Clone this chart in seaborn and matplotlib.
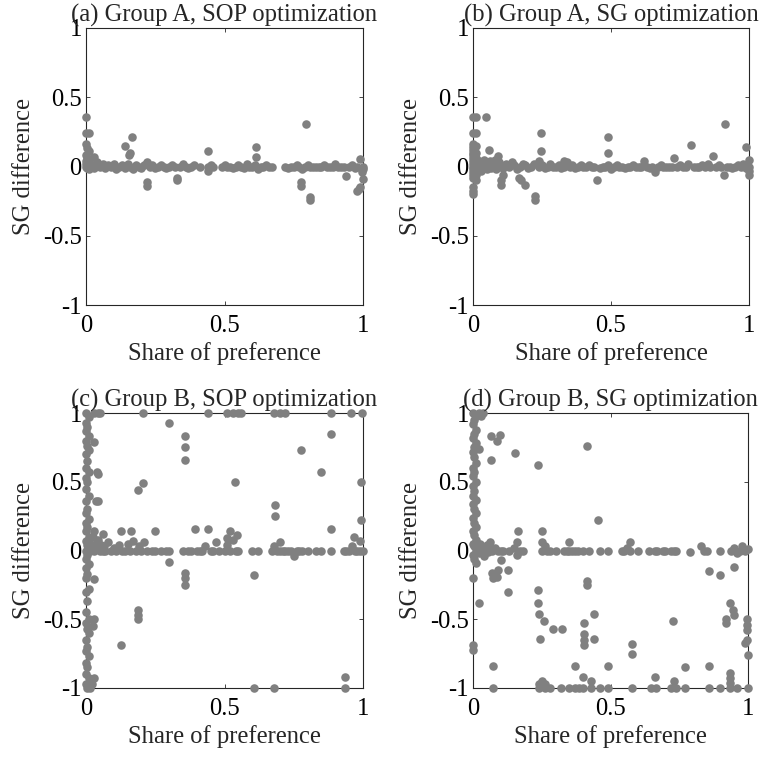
import matplotlib
matplotlib.use("Agg")
import matplotlib.pyplot as plt
import seaborn as sns
import pandas as pd

# ---------------- data ----------------
titles = ["(a) Group A, SOP optimization", "(b) Group A, SG optimization",
          "(c) Group B, SOP optimization", "(d) Group B, SG optimization"]
x_label = "Share of preference"
y_label = "SG difference"
x_ticks = [0, 0.5, 1]
x_tick_labels = ["0", "0.5", "1"]
y_ticks = [-1, -0.5, 0, 0.5, 1]
y_tick_labels = ["-1", "-0.5", "0", "0.5", "1"]

# panel (a)
a_col_x = [0, 0, 0.01, 0, 0.005, 0.01, 0, 0.005, 0, 0.01, 0, 0.005, 0, 0.01, 0.005]
a_col_y = [0.36, 0.24, 0.24, 0.16, 0.13, 0.11, 0.08, 0.06, 0.04, 0.03, 0.0, -0.01, 0.02, -0.02, 0.01]
a_band_x = [0.02, 0.03, 0.04, 0.05, 0.06, 0.07, 0.08, 0.09, 0.10, 0.11,
            0.12, 0.13, 0.14, 0.15, 0.16, 0.17, 0.18, 0.19, 0.20, 0.21,
            0.22, 0.23, 0.24, 0.25, 0.26, 0.27, 0.28, 0.29, 0.30, 0.31,
            0.32, 0.34, 0.35, 0.36, 0.37, 0.38, 0.39, 0.41, 0.44, 0.45,
            0.46, 0.49, 0.50, 0.51, 0.52, 0.53, 0.54, 0.55, 0.56, 0.57,
            0.58, 0.59, 0.60, 0.61, 0.62, 0.63, 0.64, 0.65, 0.66, 0.67,
            0.72, 0.73, 0.74, 0.75, 0.76, 0.77, 0.78, 0.79, 0.80, 0.81,
            0.82, 0.83, 0.84, 0.85, 0.86, 0.87, 0.88, 0.89, 0.90, 0.91,
            0.92, 0.93, 0.95, 0.96, 0.97, 0.98]
a_band_y = [0.01, -0.01, 0.03, 0.0, 0.02, -0.01, 0.01, 0.0, 0.02, -0.02,
            0.0, 0.01, -0.01, 0.02, 0.0, -0.02, 0.01, 0.0, -0.01, 0.01,
            0.03, 0.0, 0.01, -0.01, 0.0, 0.01, 0.0, -0.01, 0.0, 0.01,
            0.0, 0.0, 0.02, 0.0, -0.01, 0.0, 0.01, 0.0, 0.0, 0.01,
            0.0, 0.0, 0.01, 0.0, 0.0, -0.01, 0.0, 0.01, 0.0, -0.01,
            0.02, 0.0, 0.0, 0.01, -0.02, 0.0, 0.0, 0.01, 0.0, 0.0,
            0.0, -0.01, 0.0, 0.0, 0.01, 0.0, -0.02, 0.0, 0.01, 0.0,
            0.0, 0.0, 0.0, 0.0, 0.01, 0.0, 0.0, 0.0, 0.02, 0.0,
            0.0, 0.0, 0.0, 0.01, -0.01, 0.0]
a_out_x = [0.03, 0.14, 0.165, 0.16, 0.155, 0.22, 0.22, 0.33, 0.33, 0.44,
           0.44, 0.614, 0.614, 0.794, 0.775, 0.775, 0.81, 0.81, 0.94, 0.977,
           0.985, 0.99, 1.0, 0.99, 1.0, 1.0, 0.995]
a_out_y = [0.07, 0.15, 0.215, 0.1, 0.08, -0.11, -0.14, -0.08, -0.1, 0.11,
           -0.03, 0.14, 0.07, 0.31, -0.11, -0.14, -0.22, -0.24, -0.07, -0.18,
           -0.16, -0.15, -0.09, 0.055, -0.02, 0.0, -0.04]

# panel (b)
b_col_x = [0, 0, 0, 0, 0, 0, 0, 0, 0, 0, 0, 0, 0, 0, 0, 0, 0, 0,
           0.01, 0.01, 0.01, 0.01, 0.01, 0.01, 0.01, 0.01, 0.01, 0.01]
b_col_y = [0.36, 0.24, 0.16, 0.14, 0.12, 0.1, 0.08, 0.06, 0.04, 0.02, 0, -0.02, -0.04, -0.06, -0.08, -0.15, -0.18, -0.2,
           0.36, 0.24, 0.15, 0.1, 0.06, 0.03, 0, -0.03, -0.06, -0.1]
b_band_x = [0.015, 0.02, 0.02, 0.025, 0.03, 0.03, 0.035, 0.04, 0.04, 0.045,
            0.05, 0.05, 0.055, 0.06, 0.065, 0.07, 0.075, 0.08, 0.085, 0.09,
            0.095, 0.10, 0.11, 0.12, 0.13, 0.14, 0.15, 0.16, 0.17, 0.18,
            0.19, 0.20, 0.21, 0.22, 0.24, 0.25, 0.26, 0.27, 0.28, 0.29,
            0.30, 0.31, 0.32, 0.33, 0.34, 0.35, 0.36, 0.37, 0.38, 0.39,
            0.40, 0.41, 0.42, 0.43, 0.44, 0.46, 0.47, 0.48, 0.49, 0.50,
            0.51, 0.52, 0.53, 0.54, 0.55, 0.56, 0.57, 0.58, 0.59, 0.60,
            0.61, 0.63, 0.64, 0.65, 0.67, 0.68, 0.69, 0.70, 0.71, 0.72,
            0.74, 0.75, 0.76, 0.77, 0.78, 0.80, 0.81, 0.82, 0.83, 0.84,
            0.85, 0.86, 0.88, 0.89, 0.90, 0.92, 0.93, 0.94, 0.95, 0.96,
            0.97, 0.98, 0.99, 1.0]
b_band_y = [0.02, -0.02, 0.04, 0.0, 0.03, -0.03, 0.01, 0.05, -0.01, 0.02,
            -0.02, 0.03, 0.0, 0.04, -0.01, 0.02, 0.0, 0.05, -0.02, 0.01,
            0.03, 0.0, -0.01, 0.02, 0.0, 0.03, 0.01, -0.02, 0.0, 0.02,
            0.01, -0.01, 0.0, 0.02, 0.0, 0.01, -0.01, 0.0, 0.02, 0.0,
            0.0, 0.01, -0.01, 0.0, 0.03, 0.0, 0.01, -0.01, 0.0, 0.01,
            0.0, 0.0, 0.01, 0.0, 0.0, -0.01, 0.0, 0.0, 0.01, -0.02,
            0.0, 0.01, 0.0, 0.0, -0.01, 0.0, 0.0, 0.01, 0.0, 0.0,
            0.0, 0.0, -0.01, 0.0, 0.0, 0.01, 0.0, 0.0, 0.0, 0.0,
            0.0, 0.01, 0.0, 0.0, 0.02, 0.0, 0.0, 0.0, 0.01, 0.0,
            0.02, 0.0, 0.0, 0.01, 0.0, 0.0, 0.0, -0.01, 0.0, 0.01,
            0.0, 0.02, -0.01, 0.0]
b_out_x = [0.048, 0.058, 0.09, 0.1, 0.1, 0.11, 0.165, 0.174, 0.19, 0.225,
           0.225, 0.246, 0.246, 0.45, 0.49, 0.49, 0.913, 0.79, 0.99, 0.87,
           0.73, 0.62, 0.66, 0.91, 1.0, 1.0, 1.0, 0.33, 0.24]
b_out_y = [0.36, 0.12, 0.076, -0.1, -0.13, -0.06, -0.08, -0.1, -0.13, -0.21,
           -0.24, 0.24, 0.114, -0.1, 0.215, 0.1, 0.31, 0.155, 0.14, 0.075,
           0.06, 0.04, -0.04, -0.06, 0.05, -0.03, -0.06, 0.04, 0.04]

# panel (c)
c_col_x = [0, 0.01, 0, 0.005, 0, 0.01, 0, 0.005, 0.01, 0,
           0.005, 0, 0.01, 0, 0.005, 0, 0.01, 0, 0.005, 0,
           0.01, 0, 0.005, 0, 0.01, 0, 0.005, 0.01, 0, 0.005,
           0, 0.01, 0, 0.005, 0, 0.01, 0, 0.005, 0, 0.01,
           0, 0.005, 0.01, 0, 0.005, 0, 0.01, 0, 0.005, 0,
           0.01, 0, 0.005]
c_col_y = [1.0, 0.97, 0.93, 0.9, 0.87, 0.83, 0.8, 0.76, 0.73, 0.7,
           0.65, 0.6, 0.57, 0.53, 0.5, 0.45, 0.4, 0.36, 0.3, 0.27,
           0.23, 0.2, 0.17, 0.14, 0.1, 0.07, 0.04, 0.02, 0.0, -0.03,
           -0.06, -0.1, -0.13, -0.17, -0.2, -0.28, -0.3, -0.37, -0.45, -0.5,
           -0.53, -0.57, -0.6, -0.65, -0.7, -0.73, -0.77, -0.82, -0.85, -0.9,
           -0.93, -0.97, -1.0]
c_band_x = [0.01, 0.015, 0.02, 0.025, 0.03, 0.035, 0.04, 0.045, 0.05, 0.055,
            0.06, 0.065, 0.07, 0.08, 0.09, 0.1, 0.11, 0.12, 0.13, 0.14,
            0.15, 0.16, 0.17, 0.18, 0.19, 0.2, 0.21, 0.22, 0.24, 0.25,
            0.27, 0.29, 0.3, 0.35, 0.37, 0.38, 0.4, 0.41, 0.42, 0.43,
            0.45, 0.46, 0.47, 0.48, 0.5, 0.51, 0.52, 0.53, 0.54, 0.55,
            0.6, 0.62, 0.67, 0.68, 0.69, 0.7, 0.71, 0.72, 0.73, 0.74,
            0.76, 0.77, 0.78, 0.8, 0.83, 0.85, 0.886, 0.93, 0.94, 0.95,
            0.96, 0.97, 0.98, 0.99, 1.0]
c_band_y = [0.06, 0.0, 0.03, 0.1, 0.0, 0.05, 0.02, 0.08, 0.0, 0.04,
            0.0, 0.03, 0.0, 0.06, 0.0, 0.02, 0.0, 0.04, 0.0, 0.0,
            0.05, 0.0, 0.07, 0.0, 0.03, 0.0, 0.06, 0.0, 0.0, 0.0,
            0.0, 0.0, 0.0, 0.0, 0.0, 0.0, 0.0, 0.0, 0.0, 0.03,
            0.0, 0.0, 0.06, 0.0, 0.0, 0.04, 0.0, 0.08, 0.0, 0.0,
            0.0, 0.0, 0.0, 0.03, 0.0, 0.0, 0.0, 0.0, 0.0, 0.0,
            0.0, 0.0, 0.0, 0.0, 0.0, 0.0, 0.0, 0.0, 0.0, 0.0,
            0.03, 0.0, 0.0, 0.0, 0.0]
c_top_x = [0.03, 0.043, 0.05, 0.206, 0.44, 0.51, 0.53, 0.55, 0.56, 0.68,
           0.70, 0.72, 0.886, 0.957, 0.996]
c_top_y = [1.0, 1.0, 1.0, 1.0, 1.0, 1.0, 1.0, 1.0, 1.0, 1.0,
           1.0, 1.0, 1.0, 1.0, 1.0]
c_out_x = [0.3, 0.356, 0.356, 0.356, 0.029, 0.043, 0.038, 0.206, 0.188, 0.043,
           0.035, 0.127, 0.164, 0.248, 0.392, 0.44, 0.03, 0.06, 0.3, 0.356,
           0.356, 0.356, 0.03, 0.188, 0.188, 0.188, 0.03, 0.025, 0.127, 0.015,
           0.02, 0.03, 0.886, 0.775, 0.85, 0.537, 0.993, 0.682, 0.682, 0.993,
           0.886, 0.52, 0.545, 0.968, 0.99, 0.70, 0.51, 0.607, 0.75, 0.607,
           0.68, 0.936, 0.936]
c_out_y = [0.93, 0.83, 0.755, 0.66, 0.79, 0.56, 0.57, 0.49, 0.44, 0.36,
           0.36, 0.14, 0.14, 0.14, 0.16, 0.16, 0.14, 0.12, -0.08, -0.16,
           -0.2, -0.25, -0.21, -0.43, -0.47, -0.5, -0.5, -0.55, -0.69, -1.0,
           -0.97, -0.93, 0.85, 0.73, 0.57, 0.5, 0.5, 0.33, 0.25, 0.22,
           0.16, 0.14, 0.11, 0.1, 0.07, 0.065, 0.09, -0.18, -0.04, -1.0,
           -1.0, -0.92, -1.0]

# panel (d)
d_col_x = [0, 0.01, 0.005, 0, 0.01, 0.005, 0, 0.01, 0.005, 0,
           0.005, 0.01, 0, 0.005, 0, 0.01, 0, 0.005, 0, 0.01,
           0, 0.005, 0.01, 0, 0.005, 0.01, 0, 0.005, 0.01, 0,
           0.005, 0.01, 0, 0.005, 0.01, 0, 0.02, 0, 0, 0.02]
d_col_y = [1.0, 0.98, 0.95, 0.92, 0.88, 0.85, 0.82, 0.78, 0.75, 0.72,
           0.68, 0.64, 0.6, 0.57, 0.54, 0.5, 0.47, 0.43, 0.4, 0.37,
           0.34, 0.3, 0.27, 0.24, 0.2, 0.17, 0.14, 0.11, 0.08, 0.05,
           0.03, 0.0, -0.03, -0.06, -0.09, -0.2, -0.38, -0.69, -0.72, 1.0]
d_band_x = [0.015, 0.02, 0.025, 0.03, 0.035, 0.04, 0.045, 0.05, 0.055, 0.06,
            0.07, 0.08, 0.09, 0.1, 0.11, 0.13, 0.15, 0.16, 0.17, 0.18,
            0.25, 0.26, 0.27, 0.28, 0.3, 0.33, 0.34, 0.35, 0.36, 0.37,
            0.38, 0.4, 0.42, 0.46, 0.49, 0.54, 0.55, 0.56, 0.57, 0.6,
            0.64, 0.66, 0.67, 0.69, 0.7, 0.72, 0.73, 0.74, 0.79, 0.83,
            0.84, 0.85, 0.897, 0.94, 0.95, 0.96, 0.97, 0.98, 0.99, 1.0]
d_band_y = [0.03, -0.02, 0.05, 0.0, 0.02, -0.04, 0.01, 0.04, -0.01, 0.02,
            0.0, 0.02, 0.0, 0.0, 0.0, 0.0, 0.02, -0.03, 0.0, 0.0,
            0.0, 0.03, 0.0, 0.0, 0.0, 0.0, 0.0, 0.0, 0.0, 0.0,
            0.0, 0.0, 0.0, 0.0, 0.0, 0.0, 0.0, 0.02, 0.0, 0.0,
            0.0, 0.0, 0.0, 0.0, 0.0, 0.0, 0.0, 0.0, -0.01, 0.03,
            0.0, 0.0, 0.0, 0.0, 0.02, -0.02, 0.0, 0.03, 0.0, 0.01]
d_up_x = [0.035, 0.03, 0.02, 0.066, 0.086, 0.098, 0.066, 0.153, 0.235, 0.413,
          0.455, 0.164, 0.25, 0.35, 0.25, 0.06, 0.16, 0.57]
d_up_y = [1.0, 0.98, 0.74, 0.83, 0.8, 0.84, 0.66, 0.71, 0.62, 0.76,
          0.22, 0.14, 0.14, 0.065, 0.06, 0.06, 0.06, 0.065]
d_low_x = [0.07, 0.086, 0.09, 0.127, 0.073, 0.1, 0.127, 0.235, 0.235, 0.24,
           0.258, 0.29, 0.325, 0.245, 0.413, 0.413, 0.44, 0.404, 0.404, 0.404,
           0.404, 0.44, 0.073, 0.37, 0.49, 0.86, 0.9, 0.95, 0.935, 0.945,
           0.95, 0.92, 0.92, 0.727, 0.995, 0.995, 0.995, 0.99, 0.995, 1.0,
           0.58, 0.58, 0.77, 0.86, 0.66, 0.73, 0.935, 0.935, 0.935]
d_low_y = [-0.16, -0.19, -0.14, -0.14, -0.2, -0.07, -0.3, -0.29, -0.38, -0.46,
           -0.51, -0.57, -0.57, -0.64, -0.22, -0.25, -0.46, -0.53, -0.61, -0.65,
           -0.69, -0.64, -0.84, -0.84, -0.84, -0.15, -0.18, -0.12, -0.38, -0.43,
           -0.47, -0.5, -0.53, -0.51, -0.5, -0.54, -0.58, -0.67, -0.65, -0.76,
           -0.68, -0.75, -0.85, -0.84, -0.92, -0.95, -0.89, -0.93, -0.96]
d_bot_x = [0.073, 0.24, 0.24, 0.25, 0.26, 0.26, 0.28, 0.32, 0.35, 0.37,
           0.385, 0.4, 0.4, 0.43, 0.43, 0.46, 0.49, 0.58, 0.646, 0.664,
           0.72, 0.74, 0.77, 0.86, 0.9, 0.935, 0.96, 1.0]
d_bot_y = [-1, -0.97, -1, -0.95, -1, -0.97, -1, -1, -1, -1,
           -1, -0.92, -1, -0.95, -1, -1, -1, -1, -1, -1,
           -1, -1, -1, -1, -1, -1, -1, -1]

panels = [
    (a_col_x + a_band_x + a_out_x, a_col_y + a_band_y + a_out_y),
    (b_col_x + b_band_x + b_out_x, b_col_y + b_band_y + b_out_y),
    (c_col_x + c_band_x + c_top_x + c_out_x, c_col_y + c_band_y + c_top_y + c_out_y),
    (d_col_x + d_band_x + d_up_x + d_low_x + d_bot_x, d_col_y + d_band_y + d_up_y + d_low_y + d_bot_y),
]

# ---------------- style ----------------
sns.set_style("ticks")
plt.rcParams['font.family'] = ['Liberation Serif', 'DejaVu Serif']
FS = 17.7
AXC = '#262626'
DOT = '#808080'

W, H = 761, 757
fig = plt.figure(figsize=(W / 100, H / 100), dpi=100)

# axes boxes in pixels: left, top, right, bottom
boxes = [(86, 28, 363, 305), (473, 28, 749, 305),
         (86, 413, 363, 688), (473, 413, 748, 688)]

for (l, t, r, b), title, (xs, ys) in zip(boxes, titles, panels):
    ax = fig.add_axes([l / W, 1 - b / H, (r - l) / W, (b - t) / H])
    df = pd.DataFrame({"share": xs, "sg": ys})
    sns.scatterplot(data=df, x="share", y="sg", ax=ax, color=DOT, s=38,
                    linewidth=0, alpha=1, clip_on=False, zorder=3, legend=False)
    ax.set_xlim(0, 1)
    ax.set_ylim(-1, 1)
    ax.set_xticks(x_ticks)
    ax.set_xticklabels(x_tick_labels)
    ax.set_yticks(y_ticks)
    ax.set_yticklabels(y_tick_labels)
    for sp in ax.spines.values():
        sp.set_visible(True)
        sp.set_color(AXC)
        sp.set_linewidth(0.8)
    ax.tick_params(axis='both', direction='in', length=3, width=0.6, color=AXC,
                   labelsize=FS, labelcolor='black', top=True, right=True)
    ax.tick_params(axis='x', pad=7)
    ax.tick_params(axis='y', pad=3)
    ax.set_xlabel(x_label, fontsize=FS, labelpad=3.5)
    ax.set_ylabel(y_label, fontsize=FS, labelpad=6)
    ax.set_title(title, fontsize=FS, pad=4.3)

fig.savefig("out.png", dpi=100)
